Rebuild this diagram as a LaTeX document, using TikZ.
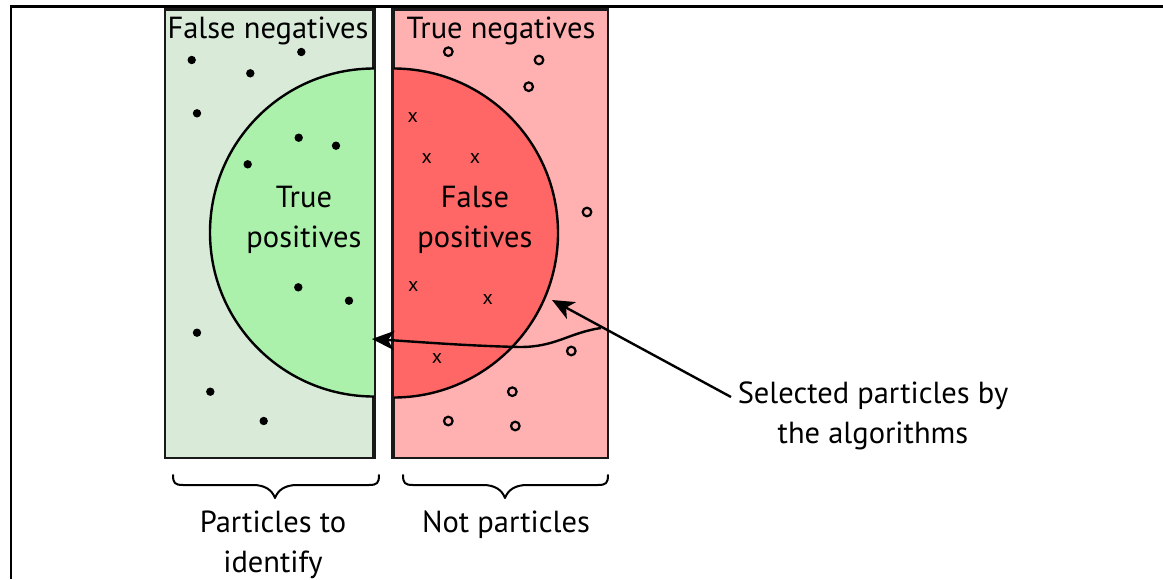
\documentclass[tikz,border=0pt]{standalone}
\usepackage{fontspec}
\setmainfont{PT Sans}
\usetikzlibrary{arrows.meta}
\definecolor{fnbg}{RGB}{217,234,216}
\definecolor{tpfill}{RGB}{171,240,171}
\definecolor{tnbg}{RGB}{255,176,176}
\definecolor{fpfill}{RGB}{255,102,102}
\tikzset{
  box/.style={draw=black!90, line width=2.5pt, inner sep=0pt, minimum width=208.5pt, minimum height=448.5pt},
  lbl/.style={font=\fontsize{30.5}{40}\selectfont, align=center, inner sep=0pt},
  cross/.style={font=\fontsize{20}{20}\selectfont, inner sep=0pt},
  dotp/.style={fill=black},
  ring/.style={draw=black, line width=2.2pt},
  rim/.style={draw=black, line width=2.4pt},
  arr/.style={line width=2.4pt, -{Stealth[length=22pt,width=19pt,inset=6pt]}},
  brace/.style={line width=2pt, line cap=round, line join=round}
}
\begin{document}
\begin{tikzpicture}[x=1pt,y=-1pt]
\useasboundingbox (0,0) rectangle (1163,579);
\draw[line width=2.4pt] (11,579) -- (11,6.5) -- (1163,6.5);

% boxes
\node[box, fill=fnbg] (fnbox) at (269.25,233.75) {};
\node[box, fill=tnbg, minimum width=214.5pt] (tnbox) at (500.75,233.75) {};

% half disks
\path[fill=tpfill] (374,68.5) arc (270:90:164) -- cycle;
\draw[rim] (374,68.5) arc (270:90:164);
\path[fill=fpfill] (393.5,68.5) arc (-90:90:164.5) -- cycle;
\draw[rim] (393.5,68.5) arc (-90:90:164.5);
\draw[draw=black!90, line width=2.5pt] (fnbox.north east) -- (fnbox.south east);
\draw[draw=black!90, line width=2.5pt] (tnbox.north west) -- (tnbox.south west);

% labels
\node[lbl] (fnl) at (268,31) {False negatives};
\node[lbl] (tnl) at (501,31) {True negatives};
\node[lbl] (tpl) at (304,219.5) {True\\positives};
\node[lbl] (fpl) at (475,219.5) {False\\positives};
\node[lbl] (sel) at (873,416) {Selected particles by\\the algorithms};
\node[lbl] (pti) at (273,545) {Particles to\\identify};
\node[lbl] (npl) at (506,525) {Not particles};

% dots (particles)
\foreach \p in {(191.7,60),(250.3,73.3),(301.3,52),(197,113.3),(298.7,137.7),(336,145.7),(247.7,164.3),(298.3,287.3),(349,300.7),(197,332.7),(210.3,391.7),(263.7,421)}
  \fill[dotp] \p circle (4.2);

% rings (true negatives)
\foreach \p in {(448.3,51.7),(539,60),(528.7,86.7),(587,212),(571.3,351),(512.3,391.7),(448.3,421),(515.3,426)}
  \draw[ring] \p circle (4.3);

% crosses (false positives)
\foreach \p in {(412.7,117),(426.7,158),(475,158),(413.3,286.5),(487.7,299),(437,358)}
  \node[cross] at \p {x};

% selection boundary arrow
\coordinate (selstart) at (601,328);
\coordinate (tpedge) at (372,339);
\draw[arr] (selstart) .. controls (568,333) and (556,347) .. (520,347)
  .. controls (470,346) and (420,342) .. (tpedge);

% pointer from label
\coordinate (labstart) at (731,397);
\coordinate (fparc) at (552,300);
\draw[arr] (labstart) -- (fparc);

% braces
\draw[brace] (173,475) .. controls (173,483) and (175,485) .. (183,485) -- (253,485)
  .. controls (265,485) and (272,490) .. (275,498)
  .. controls (278,490) and (285,485) .. (297,485) -- (369,485)
  .. controls (377,485) and (379,483) .. (379,475);
\draw[brace] (403,475) .. controls (403,483) and (405,485) .. (413,485) -- (483,485)
  .. controls (495,485) and (502,490) .. (505,498)
  .. controls (508,490) and (515,485) .. (527,485) -- (598,485)
  .. controls (606,485) and (608,483) .. (608,475);
\end{tikzpicture}
\end{document}
